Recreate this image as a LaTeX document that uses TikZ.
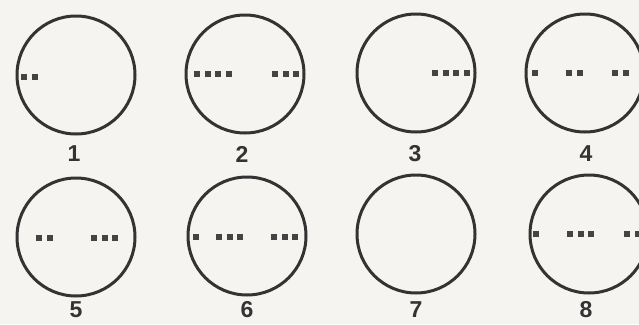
\documentclass[tikz,border=0pt]{standalone}
\usepackage{fontspec}
\setmainfont{Liberation Sans}
\definecolor{paper}{HTML}{F6F4F1}
\definecolor{rim}{HTML}{333333}
\definecolor{pinmark}{HTML}{444444}

\begin{document}
\begin{tikzpicture}[
  x=1pt,
  y=-1pt,
  line join=round,
  line cap=round,
  dial/.style={draw=rim,line width=3pt},
  pin/.style={fill=pinmark},
  caption/.style={font=\bfseries\fontsize{23}{23}\selectfont,text=rim,inner sep=0pt}
]
  \newcommand{\pinrow}[3]{%
    \foreach \k in {1,...,#3} {
      \fill[pin] ({#1+(\k-1)*10.5-3},{#2-3}) rectangle ++(6,6);
    }
  }

  \fill[paper] (0,0) rectangle (639,324);
  \useasboundingbox (0,0) rectangle (639,324);

  % Top row: dials 1 to 4.
  \coordinate (D1) at (76,75);
  \coordinate (D2) at (245,74);
  \coordinate (D3) at (416,73);
  \coordinate (D4) at (585,73);
  \foreach \d in {D1,D2,D3,D4} {
    \draw[dial] (\d) circle[radius=59pt];
  }
  \pinrow{24}{77}{2}
  \pinrow{197}{74}{4}
  \pinrow{275}{74}{3}
  \pinrow{435}{73}{4}
  \pinrow{535}{73}{1}
  \pinrow{569}{73}{2}
  \pinrow{615}{73}{2}
  \node[caption] (n1) at (74,154) {1};
  \node[caption] (n2) at (242,154) {2};
  \node[caption] (n3) at (415,154) {3};
  \node[caption] (n4) at (586,154) {4};

  % Bottom row: dials 5 to 8.
  \coordinate (D5) at (76,237);
  \coordinate (D6) at (247,236);
  \coordinate (D7) at (416,234);
  \coordinate (D8) at (589,234);
  \foreach \d in {D5,D6,D7,D8} {
    \draw[dial] (\d) circle[radius=59pt];
  }
  \pinrow{39}{238}{2}
  \pinrow{94}{238}{3}
  \pinrow{196}{237}{1}
  \pinrow{219}{237}{3}
  \pinrow{274}{237}{3}
  \pinrow{536}{234}{1}
  \pinrow{570}{234}{3}
  \pinrow{627}{234}{2}
  \node[caption] (n5) at (76,310) {5};
  \node[caption] (n6) at (247,310) {6};
  \node[caption] (n7) at (416,310) {7};
  \node[caption] (n8) at (586,310) {8};
\end{tikzpicture}
\end{document}
